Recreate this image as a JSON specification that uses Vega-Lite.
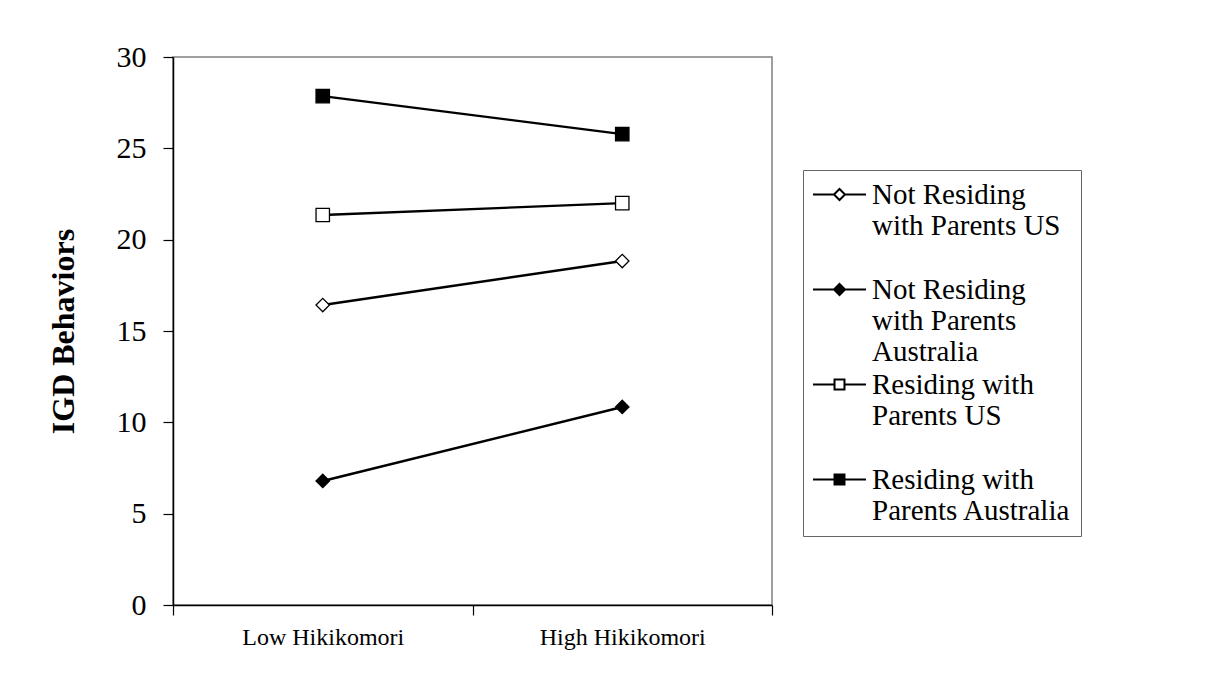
{
  "$schema": "https://vega.github.io/schema/vega-lite/v6.json",
  "width": 599,
  "height": 548,
  "autosize": "none",
  "padding": {"left": 173, "top": 57, "right": 434, "bottom": 79},
  "background": "white",
  "config": {
    "font": "Liberation Serif",
    "view": {"stroke": "#808080", "strokeWidth": 1.5},
    "axis": {"grid": false, "domainColor": "black", "domainWidth": 1.5, "tickColor": "black", "tickWidth": 1.2, "tickSize": 10, "labelColor": "black", "labelFont": "Liberation Serif", "titleColor": "black"}
  },
  "data": {
    "values": [
      {"level": "Low Hikikomori", "group": "Not Residing with Parents US", "igd": 16.42},
      {"level": "High Hikikomori", "group": "Not Residing with Parents US", "igd": 18.83},
      {"level": "Low Hikikomori", "group": "Not Residing with Parents Australia", "igd": 6.79},
      {"level": "High Hikikomori", "group": "Not Residing with Parents Australia", "igd": 10.84},
      {"level": "Low Hikikomori", "group": "Residing with Parents US", "igd": 21.35},
      {"level": "High Hikikomori", "group": "Residing with Parents US", "igd": 22.0},
      {"level": "Low Hikikomori", "group": "Residing with Parents Australia", "igd": 27.86},
      {"level": "High Hikikomori", "group": "Residing with Parents Australia", "igd": 25.78}
    ]
  },
  "encoding": {
    "x": {
      "field": "level", "type": "nominal", "sort": ["Low Hikikomori", "High Hikikomori"],
      "scale": {"type": "band", "paddingInner": 0, "paddingOuter": 0},
      "axis": {"title": null, "labelAngle": 0, "tickBand": "extent", "labelPadding": 10, "labelFontSize": 24}
    },
    "y": {
      "field": "igd", "type": "quantitative",
      "scale": {"domain": [0, 30], "nice": false, "zero": true},
      "axis": {"values": [0, 5, 10, 15, 20, 25, 30], "title": "IGD Behaviors", "titleFontSize": 32, "titleFontWeight": "bold", "titleFont": "Liberation Serif", "titlePadding": 36, "labelPadding": 17, "labelFontSize": 30}
    }
  },
  "layer": [
    {
      "mark": {"type": "line", "color": "black", "strokeWidth": 2.4},
      "encoding": {"detail": {"field": "group", "type": "nominal"}}
    },
    {
      "mark": {"type": "point", "filled": true, "stroke": "black", "strokeWidth": 1.3, "size": 180, "opacity": 1},
      "encoding": {
        "shape": {
          "field": "group", "type": "nominal",
          "scale": {"domain": ["Not Residing with Parents US", "Not Residing with Parents Australia", "Residing with Parents US", "Residing with Parents Australia"], "range": ["diamond", "diamond", "square", "square"]},
          "legend": null
        },
        "fill": {
          "field": "group", "type": "nominal",
          "scale": {"domain": ["Not Residing with Parents US", "Not Residing with Parents Australia", "Residing with Parents US", "Residing with Parents Australia"], "range": ["white", "black", "white", "black"]},
          "legend": null
        }
      }
    },
    {
      "transform": [{"filter": "false"}],
      "mark": {"type": "point", "filled": true, "stroke": "black", "strokeWidth": 2, "size": 144, "opacity": 1},
      "encoding": {
        "fill": {
          "field": "group", "type": "nominal",
          "scale": {"domain": ["Not Residing with Parents US", "Not Residing with Parents Australia", "Residing with Parents US", "Residing with Parents Australia"], "range": ["white", "black", "white", "black"]},
          "legend": null
        },
        "shape": {
          "field": "group", "type": "nominal",
          "scale": {"domain": ["Not Residing with Parents US", "Not Residing with Parents Australia", "Residing with Parents US", "Residing with Parents Australia"], "range": [
            "M-2.42,0H1.08M1.08,0L2,-0.92L2.92,0L2,0.92ZM2.92,0H6.42",
            "M-2.42,0H1.08M1.08,0L2,-0.92L2.92,0L2,0.92ZM2.92,0H6.42",
            "M-2.42,0H1.17M1.17,-0.83H2.83V0.83H1.17ZM2.83,0H6.42",
            "M-2.42,0H1.17M1.17,-0.83H2.83V0.83H1.17ZM2.83,0H6.42"
          ]},
          "legend": {
            "title": null,
            "orient": "none",
            "legendX": 630,
            "legendY": 113,
            "strokeColor": "#666666",
            "padding": 10,
            "symbolSize": 144,
            "symbolStrokeWidth": 2,
            "labelFontSize": 29,
            "labelFont": "Liberation Serif",
            "labelColor": "black",
            "labelLimit": 400,
            "labelOffset": 30,
            "rowPadding": 3,
            "labelExpr": "datum.label == 'Not Residing with Parents US' ? ['Not Residing','with Parents US',''] : datum.label == 'Not Residing with Parents Australia' ? ['Not Residing','with Parents','Australia'] : datum.label == 'Residing with Parents US' ? [' Residing with','Parents US',''] : [' Residing with','Parents Australia']",
            "encode": {
              "labels": {"lineHeight": {"value": 32}}
            }
          }
        }
      }
    }
  ],
  "resolve": {"scale": {"shape": "independent", "fill": "independent"}, "legend": {"shape": "independent", "fill": "independent"}}
}
